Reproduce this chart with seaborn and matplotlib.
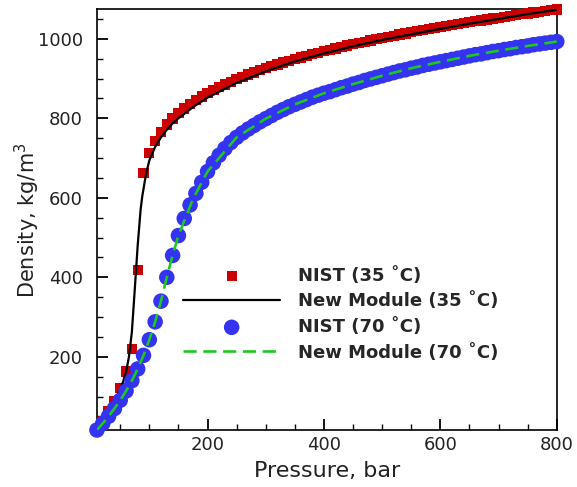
import matplotlib
matplotlib.use("Agg")
import matplotlib.pyplot as plt
import seaborn as sns
import pandas as pd
from matplotlib.ticker import MultipleLocator

# ---------------- data ----------------
p_nist = list(range(10, 801, 10))

rho_nist_35 = [
    18.7, 39.3, 62.5, 89.6, 122.3, 163.3, 219.3, 419.1, 662.3, 712.8,
    743.2, 765.8, 784.0, 799.5, 812.9, 824.9, 835.7, 845.5, 854.6, 863.0,
    870.9, 878.3, 885.3, 891.9, 898.2, 904.2, 909.9, 915.4, 920.7, 925.8,
    930.7, 935.4, 940.0, 944.4, 948.7, 952.9, 957.0, 960.9, 964.8, 968.5,
    972.2, 975.8, 979.3, 982.7, 986.1, 989.4, 992.6, 995.8, 998.9, 1001.9,
    1004.9, 1007.8, 1010.7, 1013.5, 1016.3, 1019.0, 1021.7, 1024.3, 1026.9, 1029.5,
    1032.0, 1034.5, 1036.9, 1039.3, 1041.7, 1044.0, 1046.3, 1048.6, 1050.8, 1053.0,
    1055.2, 1057.4, 1059.5, 1061.6, 1063.7, 1065.7, 1067.7, 1069.7, 1071.7, 1073.6,
]

rho_nist_70 = [
    15.9, 32.6, 50.5, 69.8, 90.8, 114.0, 140.0, 169.5, 203.6, 243.0,
    288.0, 340.0, 400.0, 455.0, 505.0, 548.0, 582.0, 611.0, 639.0, 666.0,
    688.0, 707.0, 724.0, 739.0, 752.0, 763.0, 773.0, 782.0, 791.0, 799.0,
    807.0, 815.0, 822.0, 829.0, 835.0, 841.0, 847.0, 853.0, 858.0, 863.0,
    867.0, 872.0, 877.0, 881.0, 886.0, 890.0, 895.0, 899.0, 903.0, 907.0,
    911.0, 915.0, 919.0, 922.0, 926.0, 929.0, 933.0, 936.0, 939.0, 942.0,
    945.0, 948.0, 951.0, 954.0, 957.0, 960.0, 962.0, 965.0, 968.0, 970.0,
    973.0, 975.0, 978.0, 980.0, 982.0, 985.0, 987.0, 989.0, 991.0, 993.0,
]

p_model = [10, 20, 30, 40, 50, 55, 60, 65, 70, 75, 80, 85, 88, 90, 92, 95,
           100, 110, 120, 130, 140, 150, 175, 200, 250, 300, 350, 400, 450,
           500, 550, 600, 650, 700, 750, 800]
rho_model_35 = [18, 38, 60, 86, 118, 138, 162, 200, 262, 370, 480, 570, 605,
                622, 640, 664, 694, 728, 752, 771, 787, 800, 828, 852, 889,
                918, 943, 963, 981, 997, 1011, 1025, 1038, 1050, 1062, 1073]
rho_model_70 = [15.9, 32.6, 50.5, 69.8, 90.8, 102.0, 114.0, 126.5, 140.0, 154.5,
                169.5, 186.0, 196.5, 203.6, 211.0, 223.0, 243.0, 288.0, 340.0,
                400.0, 455.0, 505.0, 597.0, 666.0, 752.0, 799.0, 835.0, 863.0,
                886.0, 907.0, 926.0, 942.0, 957.0, 970.0, 982.0, 993.0]

labels = ["NIST (35 \u02daC)", "New Module (35 \u02daC)",
          "NIST (70 \u02daC)", "New Module (70 \u02daC)"]

df35 = pd.DataFrame({"p": p_nist, "rho": rho_nist_35})
df70 = pd.DataFrame({"p": p_nist, "rho": rho_nist_70})
dm = pd.DataFrame({"p": p_model, "r35": rho_model_35, "r70": rho_model_70})

# ---------------- plot ----------------
sns.set_style("ticks")
plt.rcParams["font.family"] = ["DejaVu Sans"]

fig = plt.figure(figsize=(5.77, 4.87), dpi=100)
ax = fig.add_axes([0.168, 0.117, 0.797, 0.8635])

red = "#cc0000"
blue = "#3333f0"
green = "#1ec81e"

sns.scatterplot(data=df35, x="p", y="rho", ax=ax, marker="s", s=55,
                color=red, edgecolor="none", linewidth=0, label=labels[0],
                clip_on=False, zorder=3)
sns.lineplot(data=dm, x="p", y="r35", ax=ax, color="black", lw=1.6,
             label=labels[1], zorder=4, sort=False)
sns.scatterplot(data=df70, x="p", y="rho", ax=ax, marker="o", s=125,
                color=blue, edgecolor="none", linewidth=0, label=labels[2],
                clip_on=False, zorder=5)
sns.lineplot(data=dm, x="p", y="r70", ax=ax, color=green, lw=1.9,
             label=labels[3], zorder=6, sort=False)
ax.lines[-1].set_dashes([5, 2.5])

ax.set_xlim(min(p_nist), max(p_nist))
ax.set_ylim(min(rho_nist_70), max(rho_nist_35))

ax.xaxis.set_major_locator(MultipleLocator(200))
ax.xaxis.set_minor_locator(MultipleLocator(50))
ax.yaxis.set_major_locator(MultipleLocator(200))
ax.yaxis.set_minor_locator(MultipleLocator(50))
ax.tick_params(which="both", direction="in", bottom=True, left=True,
               top=False, right=False, colors="black", labelcolor="#222222",
               labelsize=13)
ax.tick_params(which="major", length=8, width=1.3)
ax.tick_params(which="minor", length=4.5, width=1.0)
ax.tick_params(axis="y", which="both", pad=10)
ax.tick_params(axis="x", which="both", pad=4)
for s in ax.spines.values():
    s.set_color("black")
    s.set_linewidth(1.2)

ax.set_xlabel("Pressure, bar", fontsize=16, color="#222222", labelpad=5)
ax.set_ylabel("Density, kg/m$^3$", fontsize=15, color="#222222")
ax.yaxis.set_label_coords(-0.12, 0.5)

leg = ax.legend(loc="upper left", bbox_to_anchor=(0.317, 0.452),
                bbox_transform=fig.transFigure, frameon=False,
                borderpad=0, borderaxespad=0, handlelength=5.4,
                handletextpad=1.0, labelspacing=0.42,
                prop={"weight": "bold", "size": 13})
leg.legend_handles[0].set_sizes([55])
leg.legend_handles[2].set_sizes([125])
leg.legend_handles[3].set_dashes([5, 2.5])

fig.savefig("out.png", dpi=100)
